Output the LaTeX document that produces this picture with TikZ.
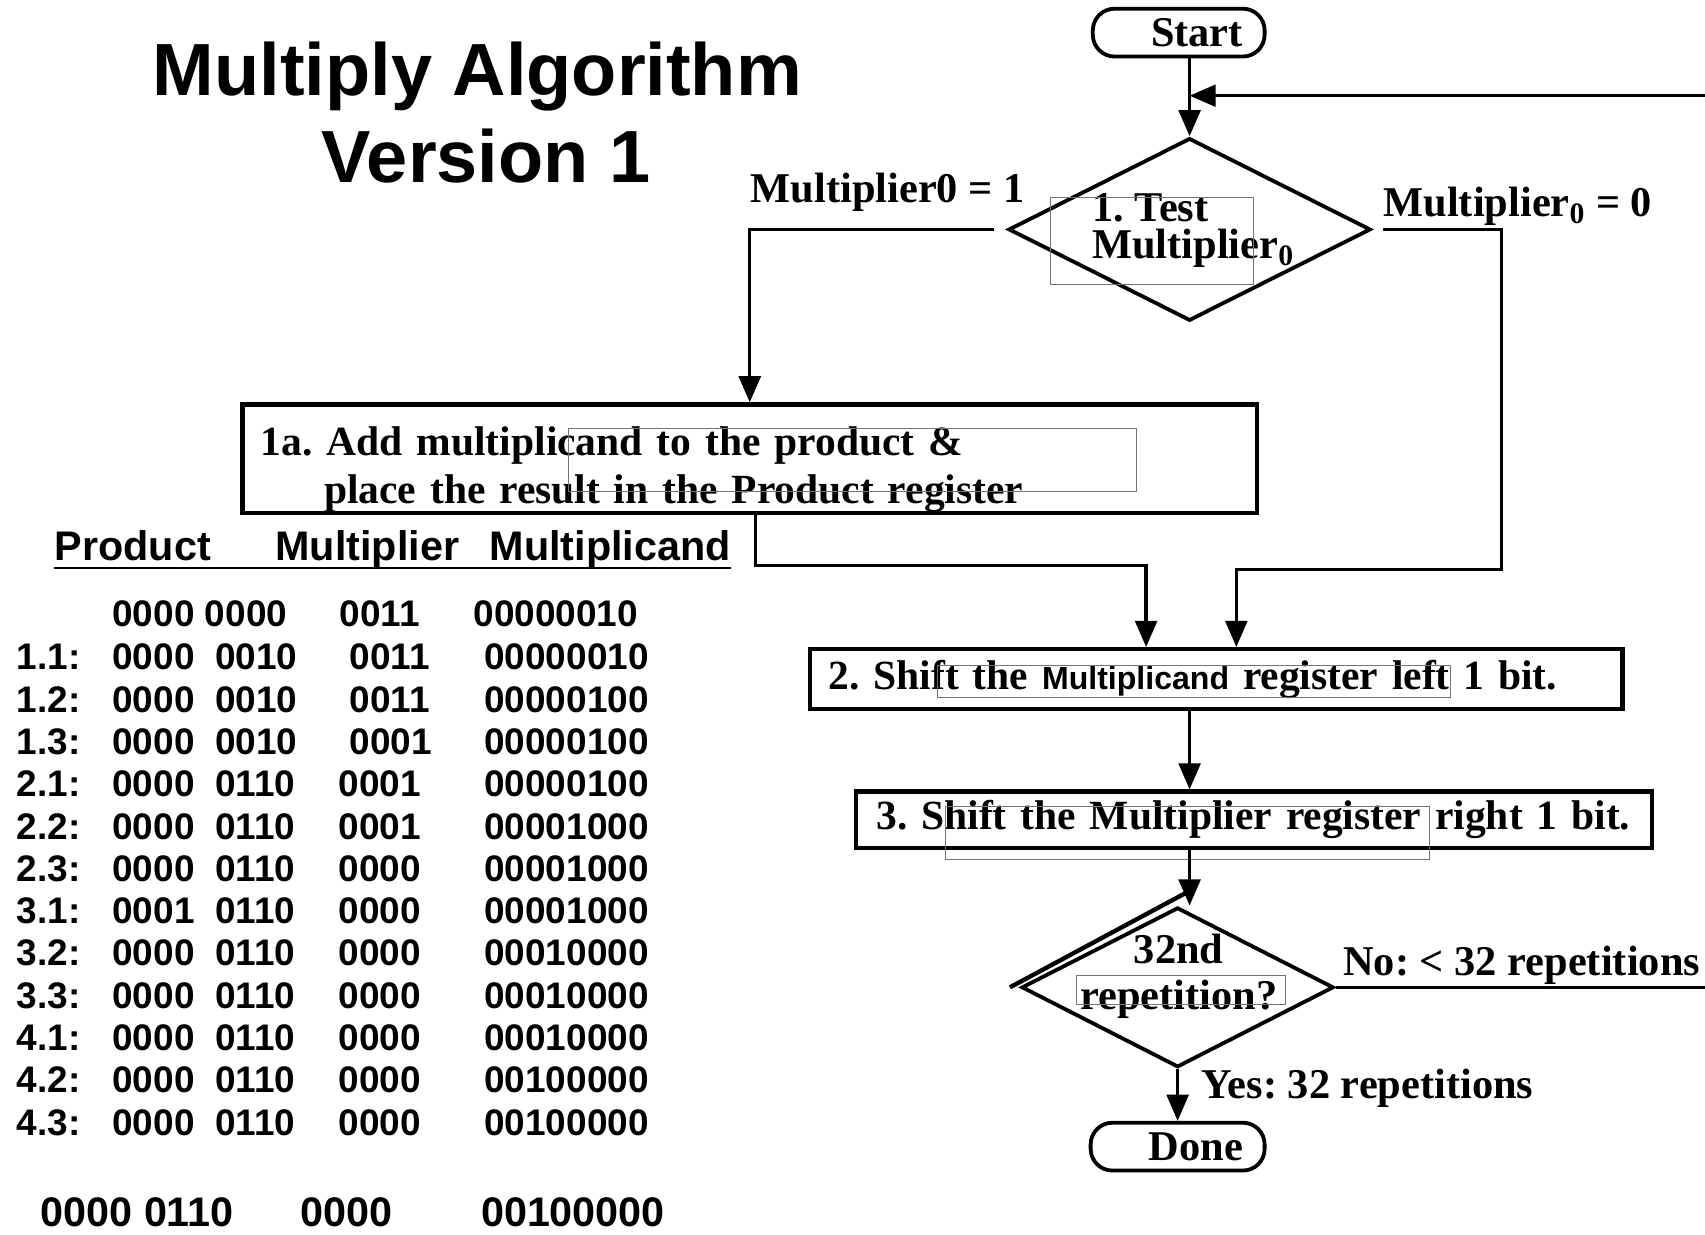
\documentclass[tikz,border=0pt]{standalone}
\usepackage{fontspec}
\setmainfont{Liberation Serif}
\newfontfamily\arialfont{Liberation Sans}
\usetikzlibrary{arrows.meta, shapes.geometric, calc}
\frenchspacing

\newcommand\flowfont{\bfseries\fontsize{19.5pt}{22pt}\selectfont}
\newcommand\boxfont{\bfseries\fontsize{19.1pt}{22pt}\selectfont}
\newcommand\tabfont{\arialfont\bfseries\fontsize{17pt}{20pt}\selectfont}
\newcommand\headfont{\arialfont\bfseries\fontsize{19pt}{22pt}\selectfont}
\newcommand\titlefont{\arialfont\bfseries\fontsize{34pt}{40pt}\selectfont}

\begin{document}
\begin{tikzpicture}[x=0.5pt, y=-0.5pt,
	flow/.style={line width=1.5pt, -{Triangle[length=12pt, width=10pt]}},
	stepbox/.style={draw, line width=2pt, font=\boxfont, align=left, inner ysep=0pt},
	termbox/.style={draw, line width=1.75pt, rounded corners=10pt, font=\flowfont,
		align=right, inner xsep=10pt, inner ysep=0pt, minimum height=22pt},
	decision/.style={draw, diamond, line width=1.75pt, inner sep=0pt},
	txt/.style={inner sep=0pt, font=\flowfont},
	tab/.style={inner sep=0pt, anchor=base west, font=\tabfont},
	ghost/.style={draw=black!55, line width=0.4pt}]

	% 画布大小
	\useasboundingbox (0,0) rectangle (1568,1135);

	% 标题
	\node[font=\titlefont, inner sep=0pt, anchor=base] (title1) at (439,88) {Multiply Algorithm};
	\node[font=\titlefont, inner sep=0pt, anchor=base] (title2) at (447,168) {Version 1};

	% 流程图的框
	\node[termbox, text width=59pt] (start) at (1084,30) {Start};
	\node[decision, minimum width=166.5pt, minimum height=84pt] (test) at (1094,211) {};
	\node[txt, align=left, anchor=north west, font={\bfseries\fontsize{19.5pt}{17pt}\selectfont}]
		(testtext) at (1004,178) {1. Test\\Multiplier\textsubscript{0}};
	\node[stepbox, text width=449.5pt, inner xsep=8.5pt, minimum height=50pt] (add) at (689.5,422)
		{\rule{0pt}{23.5pt}1a. Add multiplicand to the product \&\\
		\hspace*{29pt}place the result in the Product register};
	\node[stepbox, text width=356.5pt, inner xsep=8.5pt, minimum height=27.5pt] (shiftmd) at (1118.5,624.5)
		{\mbox{2. Shift the {\arialfont\fontsize{14.75pt}{16pt}\selectfont Multiplicand} register left 1 bit.}};
	\node[stepbox, text width=347pt, inner xsep=9.5pt, minimum height=26pt] (shiftmr) at (1153,754)
		{\mbox{3. Shift the Multiplier register right 1 bit.}};
	\node[decision, minimum width=143.5pt, minimum height=73.5pt] (rep) at (1083,908) {};
	\node[txt, align=center, font={\bfseries\fontsize{19.5pt}{21pt}\selectfont}]
		(reptext) at (1084,898) {32nd\\repetition?};
	\draw[line width=2pt] ($(rep.west)+(-9,0)$) -- ($(rep.north)+(12,-14)$);
	\node[termbox, text width=60pt] (done) at (1083,1054.5) {Done};

	% 细框
	\draw[ghost] (966,182) rectangle (1153,262);
	\draw[ghost] (523,394) rectangle (1045,452);
	\draw[ghost] (862,612) rectangle (1334,641);
	\draw[ghost] (869,742) rectangle (1315,790);
	\draw[ghost] (990,897) rectangle (1182,924);

	% 连线
	\coordinate (zeroturn) at (1381,524);
	\coordinate (addturn) at (1054,520);
	\coordinate (loopR) at (1620,88);
	\draw[flow] (start.south -| test.north) -- (test.north);
	\draw[flow, shorten <=6pt] (test.west) -| (add.north);
	\draw[flow, shorten <=5pt] (test.east) -| (zeroturn) -| ([xshift=9.25pt]shiftmd.north);
	\draw[flow] ([xshift=2.75pt]add.south) |- (addturn) -- (addturn |- shiftmd.north);
	\draw[flow] (shiftmd.south -| test.north) -- (shiftmr.north -| test.north);
	\draw[flow] (shiftmr.south -| test.north) -- (rep.north -| test.north);
	\draw[flow] (rep.south) -- (done.north);
	\draw[flow] (rep.east) -| (loopR) -- (loopR -| test.north);

	% 分支标签
	\node[txt, anchor=base west] (onelbl) at (690,186) {Multiplier0 = 1};
	\node[txt, anchor=base west] (zerolbl) at (1272,199) {Multiplier\textsubscript{0} = 0};
	\node[txt, anchor=base west] (nolbl) at (1235,897) {No: < 32 repetitions};
	\node[txt, anchor=base west] (yeslbl) at (1105,1010) {Yes: 32 repetitions};

	% 表头
	\node[inner sep=0pt, anchor=base west, font=\headfont] (hprod) at (50,515) {Product};
	\node[inner sep=0pt, anchor=base west, font=\headfont] (hmr) at (253,515) {Multiplier};
	\node[inner sep=0pt, anchor=base west, font=\headfont] (hmd) at (450,515) {Multiplicand};
	\draw[line width=1pt] ([yshift=-3.5pt]hprod.base west) -- ([yshift=-3.5pt]hmd.base east);

	% 表格
	\node[tab] (prod0) at (103,576) {0000 0000};
	\node[tab] (mr0) at (312,576) {0011};
	\node[tab] (md0) at (435,576) {00000010};
	\foreach \stp/\prd/\mlr/\mx/\mcd [count=\i] in {
		1.1:/0000~~0010/0011/321/00000010,
		1.2:/0000~~0010/0011/321/00000100,
		1.3:/0000~~0010/0001/321/00000100,
		2.1:/0000~~0110/0001/311/00000100,
		2.2:/0000~~0110/0001/311/00001000,
		2.3:/0000~~0110/0000/311/00001000,
		3.1:/0001~~0110/0000/311/00001000,
		3.2:/0000~~0110/0000/311/00010000,
		3.3:/0000~~0110/0000/311/00010000,
		4.1:/0000~~0110/0000/311/00010000,
		4.2:/0000~~0110/0000/311/00100000,
		4.3:/0000~~0110/0000/311/00100000}
	{
		\pgfmathsetmacro\yy{616+(\i-1)*38.9}
		\node[tab] (lab\i) at (15,\yy) {\stp};
		\node[tab] (prod\i) at (103,\yy) {\prd};
		\node[tab] (mr\i) at (\mx,\yy) {\mlr};
		\node[tab] (md\i) at (445,\yy) {\mcd};
	}

	% 结果
	\node[tab, font=\headfont] (fprod) at (37,1128) {0000 0110};
	\node[tab, font=\headfont] (fmr) at (276,1128) {0000};
	\node[tab, font=\headfont] (fmd) at (442,1128) {00100000};
\end{tikzpicture}
\end{document}
